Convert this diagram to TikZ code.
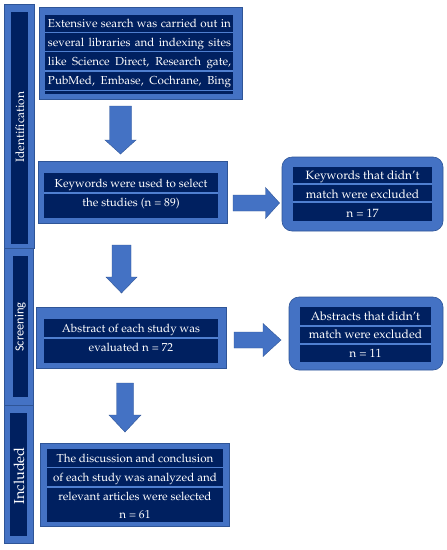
\documentclass[tikz,border=0pt]{standalone}
\usepackage[T1]{fontenc}
\usepackage{fontspec}
\newfontfamily\carl{Carlito}
\newcommand\pal{\fontencoding{T1}\fontfamily{ppl}\selectfont}
\usetikzlibrary{calc}
\definecolor{blueA}{HTML}{4472C4}
\definecolor{bordc}{HTML}{2F5597}
\definecolor{navy}{HTML}{002060}
\definecolor{sepc}{HTML}{4F7FD0}
\newcommand\blockdown[5]{%
  \fill[arrowfill] ($(#1)+(-#3,0)$) -- ($(#1)+(#3,0)$) -- ($(#2)+(#3,-#5)$) -- ($(#2)+(#4,-#5)$) -- (#2)
    -- ($(#2)+(-#4,-#5)$) -- ($(#2)+(-#3,-#5)$) -- cycle;}
\newcommand\blockright[5]{%
  \fill[arrowfill] ($(#1)+(0,-#3)$) -- ($(#2)+(-#5,-#3)$) -- ($(#2)+(-#5,-#4)$) -- (#2)
    -- ($(#2)+(-#5,#4)$) -- ($(#2)+(-#5,#3)$) -- ($(#1)+(0,#3)$) -- cycle;}
\begin{document}
\begin{tikzpicture}[x=1pt,y=-1pt,
  outerbox/.style={draw=bordc, line width=0.6pt, fill=blueA, inner sep=0pt, outer sep=0pt},
  roundbox/.style={outerbox, rounded corners=10pt},
  innerbox/.style={fill=navy, inner sep=0pt, outer sep=0pt},
  sepline/.style={draw=sepc, line width=1.6pt},
  txt/.style={text=white, inner sep=0pt, anchor=base, font=\pal\fontsize{11.6}{13}\selectfont},
  etxt/.style={txt, font=\pal\fontsize{12}{14}\selectfont},
  sidetxt/.style={text=white, inner sep=0pt, rotate=90},
  arrowfill/.style={fill=blueA, draw=bordc, line width=0.4pt}
]
\useasboundingbox[fill=white] (0,0) rectangle (447,550);

% side bars
\node[outerbox, minimum width=30pt, minimum height=244pt] (s1) at (19,126) {};
\node[innerbox, minimum width=17pt, minimum height=232pt] (s1in) at (19.5,128) {};
\node[sidetxt, font=\pal\fontsize{12}{14}\selectfont] (s1t) at (20,127) {Identification};

\node[outerbox, minimum width=29pt, minimum height=157pt] (s2) at (18.5,326.5) {};
\node[innerbox, minimum width=15pt, minimum height=141pt] (s2in) at (20.5,326.5) {};
\node[sidetxt, font=\carl\fontsize{12.5}{14}\selectfont] (s2t) at (20.5,327) {Screening};

\node[outerbox, minimum width=29pt, minimum height=138pt] (s3) at (18.5,474) {};
\node[innerbox, minimum width=17pt, minimum height=123pt] (s3in) at (18.5,474.5) {};
\node[sidetxt, font=\pal\fontsize{14.5}{16}\selectfont] (s3t) at (19,476) {Included};

% box 1
\node[outerbox, minimum width=203pt, minimum height=92pt] (n1) at (140.5,53) {};
\node[innerbox, minimum width=188pt, minimum height=79pt] (n1in) at (139,54.5) {};
\foreach \yy in {32.5,51.5,71,90.5} \draw[sepline] (n1in.west |- 0,\yy) -- (n1in.east |- 0,\yy);
\node[txt] (n1a) at (139.5,27) {\makebox[183pt][s]{Extensive search was carried out in}};
\node[txt] (n1b) at (139.5,46.5) {\makebox[183pt][s]{several libraries and indexing sites}};
\node[txt] (n1c) at (139.5,65.5) {\makebox[183pt][s]{like Science Direct, Research gate,}};
\node[txt] (n1d) at (139.5,84.5) {\makebox[183pt][s]{PubMed, Embase, Cochrane, Bing}};

% box 2
\node[outerbox, minimum width=189pt, minimum height=62pt] (n2) at (132.5,192) {};
\node[innerbox, minimum width=174pt, minimum height=45pt] (n2in) at (131,195.5) {};
\draw[sepline] (n2in.west |- 0,193) -- (n2in.east |- 0,193);
\node[txt] (n2a) at (131,187) {Keywords were used to select};
\node[txt] (n2b) at (131,206) {the studies (n = 89)};

% excluded 1
\node[roundbox, minimum width=161pt, minimum height=74pt] (e1) at (362.5,194) {};
\node[innerbox, minimum width=139pt, minimum height=54pt] (e1in) at (362.5,194) {};
\foreach \yy in {184,202} \draw[sepline] (e1in.west |- 0,\yy) -- (e1in.east |- 0,\yy);
\node[etxt] (e1a) at (362.5,179) {Keywords that didn't};
\node[etxt] (e1b) at (362.5,198) {match were excluded};
\node[etxt] (e1c) at (362.5,217) {n = 17};

% box 3
\node[outerbox, minimum width=190pt, minimum height=61pt] (n3) at (131,337.5) {};
\node[innerbox, minimum width=174pt, minimum height=44pt] (n3in) at (131,341) {};
\draw[sepline] (n3in.west |- 0,338) -- (n3in.east |- 0,338);
\node[txt] (n3a) at (131,332) {Abstract of each study was};
\node[txt] (n3b) at (131,351) {evaluated n = 72};

% excluded 2
\node[roundbox, minimum width=154pt, minimum height=73pt] (e2) at (366,333.5) {};
\node[innerbox, minimum width=131pt, minimum height=55pt] (e2in) at (365.5,334.5) {};
\foreach \yy in {326,344} \draw[sepline] (e2in.west |- 0,\yy) -- (e2in.east |- 0,\yy);
\node[etxt] (e2a) at (365.5,320) {Abstracts that didn't};
\node[etxt] (e2b) at (365.5,338) {match were excluded};
\node[etxt] (e2c) at (365.5,357) {n = 11};

% box 4
\node[outerbox, minimum width=189pt, minimum height=83pt] (n4) at (134.5,484.5) {};
\node[innerbox, minimum width=176pt, minimum height=73pt] (n4in) at (135,485.5) {};
\foreach \yy in {467.5,487} \draw[sepline] (n4in.west |- 0,\yy) -- (n4in.east |- 0,\yy);
\node[txt] (n4a) at (135,462) {The discussion and conclusion};
\node[txt] (n4b) at (135,481) {of each study was analyzed and};
\node[txt] (n4c) at (135,500) {relevant articles were selected};
\node[txt] (n4d) at (135,518) {n = 61};

% block arrows
\coordinate (a1s) at (120.5,106); \coordinate (a1e) at (120.5,154);
\coordinate (a2s) at (121.5,245); \coordinate (a2e) at (121.5,293);
\coordinate (a3s) at (125,383);   \coordinate (a3e) at (125,432);
\coordinate (r1s) at (233,203);   \coordinate (r1e) at (279.5,203);
\coordinate (r2s) at (234,340);   \coordinate (r2e) at (281,340);
\blockdown{a1s}{a1e}{11}{15.5}{14}
\blockdown{a2s}{a2e}{9.5}{15.5}{16}
\blockdown{a3s}{a3e}{8.5}{16}{17}
\blockright{r1s}{r1e}{8}{15.5}{14}
\blockright{r2s}{r2e}{8}{16.5}{18}
\end{tikzpicture}
\end{document}
